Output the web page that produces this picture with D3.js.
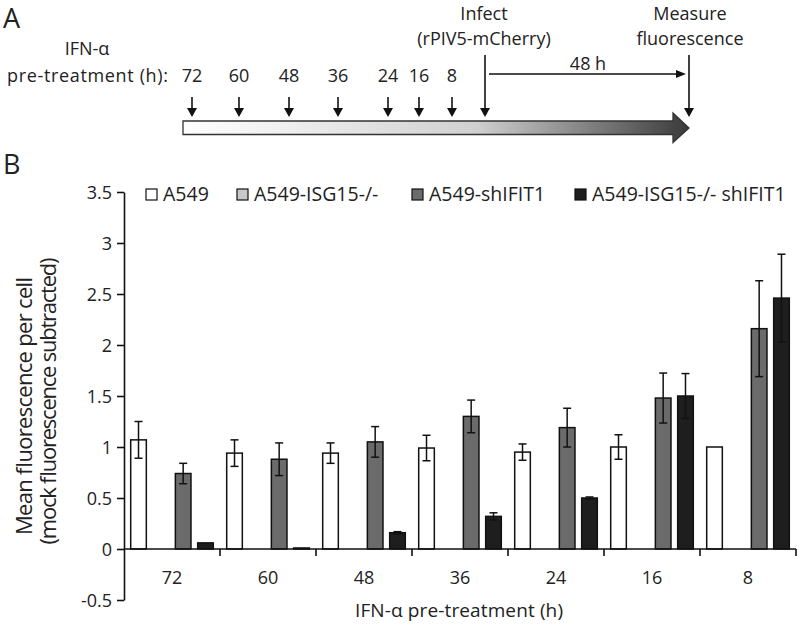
<!DOCTYPE html>
<html><head><meta charset="utf-8">
<script src="https://cdn.jsdelivr.net/npm/d3@7"></script>
<style>body{margin:0;background:#fff}svg{display:block}text{font-family:"Open Sans",sans-serif;fill:#222}</style>
</head><body>
<svg id="c" width="799" height="626"></svg>
<script>
const categories = ["72","60","48","36","24","16","8"];
const seriesNames = ["A549","A549-ISG15-/-","A549-shIFIT1","A549-ISG15-/- shIFIT1"];
const seriesColors = ["#ffffff","#c8c8c8","#6b6b6b","#1e1e1e"];
const a549 = [1.07,0.94,0.94,0.99,0.95,1.00,1.00];
const a549Err = [0.18,0.13,0.10,0.125,0.08,0.12,0];
const isg15 = [0,0,0,0,0,0,0];
const isg15Err = [0,0,0,0,0,0,0];
const shIFIT1 = [0.74,0.88,1.05,1.30,1.19,1.48,2.16];
const shIFIT1Err = [0.10,0.16,0.15,0.16,0.19,0.245,0.47];
const dbl = [0.06,0.01,0.16,0.32,0.50,1.50,2.46];
const dblErr = [0,0,0.01,0.035,0.01,0.22,0.43];
const yTicks = [-0.5,0,0.5,1,1.5,2,2.5,3,3.5];
const timeline = ["72","60","48","36","24","16","8"];

const values = [a549, isg15, shIFIT1, dbl];
const errs = [a549Err, isg15Err, shIFIT1Err, dblErr];

const svg = d3.select("#c");
const FS = 18;

svg.append("text").attr("x",3).attr("y",28).style("font-size","27px").text("A");
svg.append("text").attr("x",3).attr("y",174).style("font-size","27px").text("B");

// ---- Panel A timeline ----
const tlX = {"72":192,"60":239,"48":289,"36":338,"24":388,"16":419,"8":452};
const defs = svg.append("defs");
const grad = defs.append("linearGradient").attr("id","g").attr("x1","0").attr("x2","1").attr("y1","0").attr("y2","0");
grad.append("stop").attr("offset","0").attr("stop-color","#ffffff");
grad.append("stop").attr("offset","0.58").attr("stop-color","#d0d0d0");
grad.append("stop").attr("offset","1").attr("stop-color","#3a3a3a");
svg.append("path")
  .attr("d","M183,121 L673,121 L673,113 L689,128 L673,142.5 L673,134.5 L183,134.5 Z")
  .attr("fill","url(#g)").attr("stroke","#333").attr("stroke-width",1.3);

svg.append("text").attr("x",87).attr("y",55).attr("text-anchor","middle").style("font-size",FS+"px").text("IFN-α");
svg.append("text").attr("x",7).attr("y",82).attr("textLength",161).style("font-size",FS+"px").text("pre-treatment (h):");
function downArrow(x,y1,y2){
  svg.append("line").attr("x1",x).attr("x2",x).attr("y1",y1).attr("y2",y2-7).attr("stroke","#111").attr("stroke-width",1.6);
  svg.append("path").attr("d",`M${x-5},${y2-9} L${x+5},${y2-9} L${x},${y2} Z`).attr("fill","#111");
}
timeline.forEach(t=>{
  const x = tlX[t];
  svg.append("text").attr("x",x).attr("y",82).attr("text-anchor","middle").style("font-size",FS+"px").text(t);
  downArrow(x,97,117);
});
downArrow(485,55,117);
downArrow(689,55,117);
svg.append("text").attr("x",484).attr("y",20).attr("text-anchor","middle").style("font-size",FS+"px").text("Infect");
svg.append("text").attr("x",484).attr("y",45).attr("text-anchor","middle").style("font-size",FS+"px").text("(rPIV5-mCherry)");
svg.append("text").attr("x",690).attr("y",20).attr("text-anchor","middle").style("font-size",FS+"px").text("Measure");
svg.append("text").attr("x",690).attr("y",45).attr("text-anchor","middle").style("font-size",FS+"px").text("fluorescence");
svg.append("line").attr("x1",489).attr("x2",678).attr("y1",74).attr("y2",74).attr("stroke","#111").attr("stroke-width",1.3);
svg.append("path").attr("d","M676,70 L686,74 L676,78 Z").attr("fill","#111");
svg.append("text").attr("x",588).attr("y",70).attr("text-anchor","middle").style("font-size",FS+"px").text("48 h");

// ---- Panel B chart ----
const x0 = d3.scaleBand().domain(categories).range([124,796]).paddingInner(0).paddingOuter(0);
const x1 = d3.scaleBand().domain(seriesNames).range([0,x0.bandwidth()]).paddingInner(0.3).paddingOuter(0.3);
const y = d3.scaleLinear().domain([-0.5,3.5]).range([600,192]);

const g = svg.append("g");
categories.forEach((c,ci)=>{
  seriesNames.forEach((s,si)=>{
    const v = values[si][ci];
    if (v<=0) return;
    const bx = x0(c)+x1(s);
    g.append("rect").attr("x",bx).attr("y",y(v)).attr("width",x1.bandwidth()).attr("height",y(0)-y(v))
      .attr("fill",seriesColors[si]).attr("stroke","#111").attr("stroke-width",1.5);
    const e = errs[si][ci];
    if (e>0){
      const cx = bx + x1.bandwidth()/2;
      g.append("line").attr("x1",cx).attr("x2",cx).attr("y1",y(v+e)).attr("y2",y(v-e)).attr("stroke","#111").attr("stroke-width",1.5);
      [v+e,v-e].forEach(t=>g.append("line").attr("x1",cx-4).attr("x2",cx+4).attr("y1",y(t)).attr("y2",y(t)).attr("stroke","#111").attr("stroke-width",1.5));
    }
  });
});

const yAxis = d3.axisLeft(y).tickValues(yTicks).tickSize(7).tickSizeOuter(0).tickFormat(d=>String(d));
const ya = svg.append("g").attr("transform","translate(124,0)").call(yAxis);
ya.select(".domain").attr("stroke","#111").attr("stroke-width",1.6);
ya.selectAll(".tick line").attr("stroke","#111").attr("stroke-width",1.6);
ya.selectAll(".tick text").attr("x",-12).attr("dy","0.36em").style("font-size",FS+"px").style("font-family","'Open Sans',sans-serif").attr("fill","#222");

const xa = svg.append("g").attr("transform",`translate(0,${y(0)})`);
xa.append("line").attr("x1",124).attr("x2",796).attr("stroke","#111").attr("stroke-width",1.6);
const bounds = categories.map(c=>x0(c)).concat([x0(categories[categories.length-1])+x0.bandwidth()]);
bounds.slice(1).forEach(b=>xa.append("line").attr("x1",b).attr("x2",b).attr("y1",0).attr("y2",7).attr("stroke","#111").attr("stroke-width",1.6));
categories.forEach(c=>xa.append("text").attr("x",x0(c)+x0.bandwidth()/2).attr("y",35).attr("text-anchor","middle").style("font-size",FS+"px").text(c));

svg.append("text").attr("x",459).attr("y",617).attr("text-anchor","middle").attr("textLength",208).style("font-size","19px").text("IFN-α pre-treatment (h)");
svg.append("text").attr("transform","translate(32,406) rotate(-90)").attr("text-anchor","middle").attr("textLength",258).style("font-size","22px").text("Mean fluorescence per cell");
svg.append("text").attr("transform","translate(56,401) rotate(-90)").attr("text-anchor","middle").attr("textLength",287).style("font-size","22px").text("(mock fluorescence subtracted)");

const legX = [146,237,412,575];
seriesNames.forEach((s,i)=>{
  svg.append("rect").attr("x",legX[i]).attr("y",189).attr("width",11).attr("height",11)
    .attr("fill",seriesColors[i]).attr("stroke","#111").attr("stroke-width",1.2);
  svg.append("text").attr("x",legX[i]+17).attr("y",201).style("font-size","19.5px").text(s);
});
</script>
</body></html>
